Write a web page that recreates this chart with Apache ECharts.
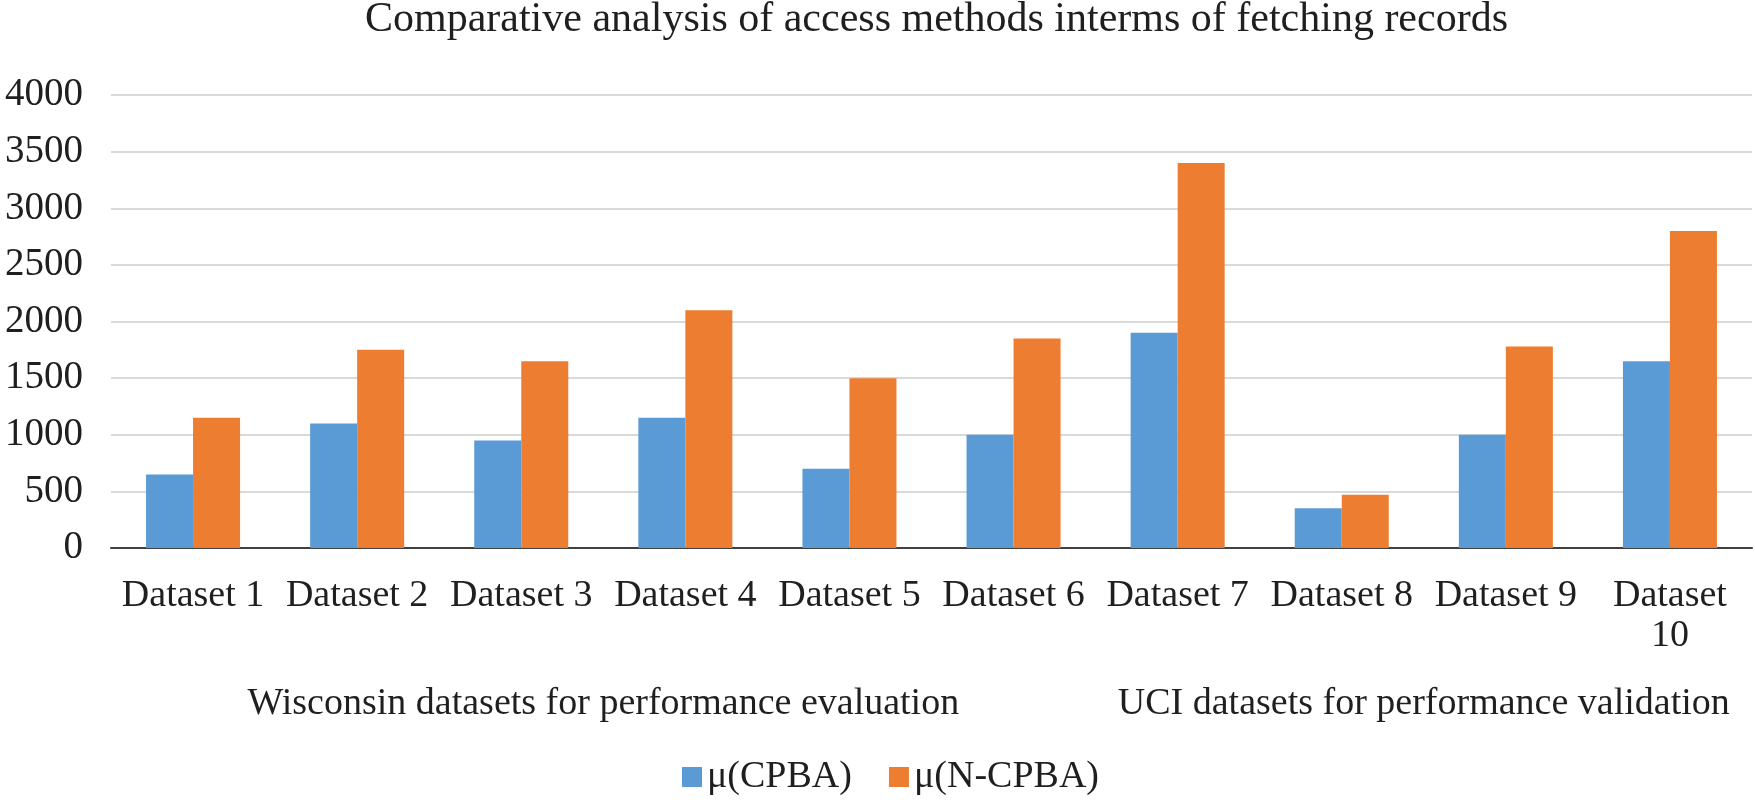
<!DOCTYPE html>
<html>
<head>
<meta charset="utf-8">
<script src="https://cdn.jsdelivr.net/npm/echarts@6/dist/echarts.min.js"></script>
<style>
html,body{margin:0;padding:0;background:#fff;}
#chart{width:1755px;height:800px;}
</style>
</head>
<body>
<div id="chart"></div>
<script>
const titleText = 'Comparative analysis of access methods interms of fetching records';
const categories = ['Dataset 1','Dataset 2','Dataset 3','Dataset 4','Dataset 5','Dataset 6','Dataset 7','Dataset 8','Dataset 9','Dataset 10'];
const seriesNames = ['\u03bc(CPBA)', '\u03bc(N-CPBA)'];
const cpba = [650, 1100, 950, 1150, 700, 1000, 1900, 350, 1000, 1650];
const ncpba = [1150, 1750, 1650, 2100, 1500, 1850, 3400, 470, 1780, 2800];
// group labels sit on category boundaries: Wisconsin spans datasets 1-6, UCI spans datasets 7-10
const groupBoundaries = ['', '', '', 'Wisconsin datasets for performance evaluation', '', '', '', '', 'UCI datasets for performance validation', '', ''];
const yTicks = {min: 0, max: 4000, interval: 500};

const FONT = '"Liberation Serif", "Times New Roman", serif';
const TXT = '#1f1f1f';
const chart = echarts.init(document.getElementById('chart'));
chart.setOption({
  backgroundColor: '#ffffff',
  animation: false,
  title: {
    text: titleText,
    left: 360,
    top: -6,
    textStyle: {fontFamily: FONT, fontSize: 42, fontWeight: 'normal', color: TXT}
  },
  legend: {
    left: 677,
    top: 753,
    itemWidth: 20,
    itemHeight: 20,
    itemGap: 37,
    icon: 'rect',
    textStyle: {fontFamily: FONT, fontSize: 38, color: TXT, padding: [0, 0, 0, 0]},
    data: seriesNames
  },
  grid: {left: 111, right: 3, top: 95, bottom: 252, outerBoundsMode: 'none', containLabel: false},
  xAxis: [{
    type: 'category',
    data: categories,
    axisLine: {lineStyle: {color: '#404040', width: 2}},
    axisTick: {show: false},
    axisLabel: {
      interval: 0,
      margin: 28,
      fontFamily: FONT, fontSize: 38, color: TXT, lineHeight: 40,
      formatter: v => v.length > 9 ? v.replace(' ', '\n') : v
    }
  }, {
    type: 'category',
    position: 'bottom',
    boundaryGap: false,
    data: groupBoundaries,
    axisLine: {show: false},
    axisTick: {show: false},
    splitLine: {show: false},
    axisLabel: {
      interval: 0,
      margin: 136,
      fontFamily: FONT, fontSize: 38, color: TXT, lineHeight: 40,
      showMinLabel: true, showMaxLabel: true
    }
  }],
  yAxis: {
    type: 'value',
    min: yTicks.min, max: yTicks.max, interval: yTicks.interval,
    axisLine: {show: false},
    axisTick: {show: false},
    splitLine: {lineStyle: {color: '#D9D9D9', width: 2}},
    axisLabel: {margin: 28, fontFamily: FONT, fontSize: 39, color: TXT, formatter: v => String(v)}
  },
  series: [{
    name: seriesNames[0],
    type: 'bar',
    data: cpba,
    barGap: '0%',
    barCategoryGap: '42.7%',
    itemStyle: {color: '#5B9BD5'}
  }, {
    name: seriesNames[1],
    type: 'bar',
    data: ncpba,
    barGap: '0%',
    barCategoryGap: '42.7%',
    itemStyle: {color: '#ED7D31'}
  }]
});
</script>
</body>
</html>
